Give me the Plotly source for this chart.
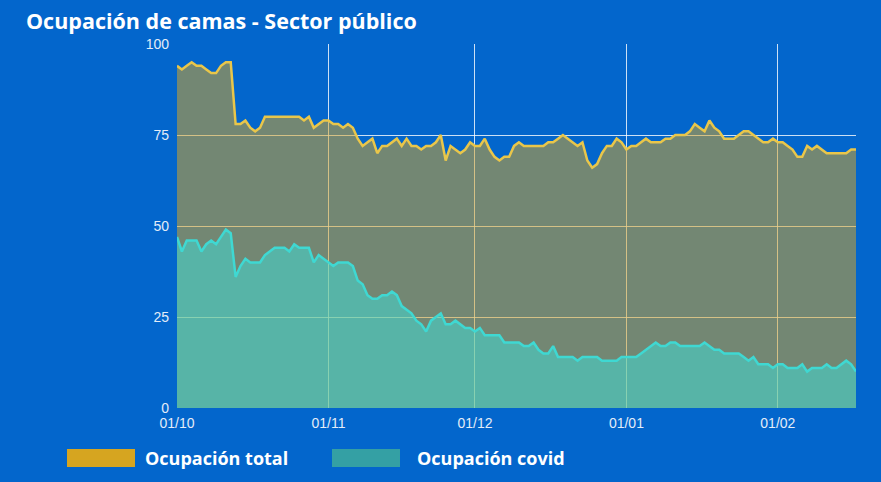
import plotly.graph_objects as go
import pandas as pd

dates = pd.date_range("2020-10-01", "2021-02-17", freq="D")

ocupacion_total = [
    94, 93, 94, 95, 94, 94, 93, 92, 92, 94, 95, 95, 78, 78, 79, 77, 76, 77, 80, 80,
    80, 80, 80, 80, 80, 80, 79, 80, 77, 78, 79, 79, 78, 78, 77, 78, 77, 74, 72, 73,
    74, 70, 72, 72, 73, 74, 72, 74, 72, 72, 71, 72, 72, 73, 75, 68, 72, 71, 70, 71,
    73, 72, 72, 74, 71, 69, 68, 69, 69, 72, 73, 72, 72, 72, 72, 72, 73, 73, 74, 75,
    74, 73, 72, 73, 68, 66, 67, 70, 72, 72, 74, 73, 71, 72, 72, 73, 74, 73, 73, 73,
    74, 74, 75, 75, 75, 76, 78, 77, 76, 79, 77, 76, 74, 74, 74, 75, 76, 76, 75, 74,
    73, 73, 74, 73, 73, 72, 71, 69, 69, 72, 71, 72, 71, 70, 70, 70, 70, 70, 71, 71,
]

ocupacion_covid = [
    47, 43, 46, 46, 46, 43, 45, 46, 45, 47, 49, 48, 36, 39, 41, 40, 40, 40, 42, 43,
    44, 44, 44, 43, 45, 44, 44, 44, 40, 42, 41, 40, 39, 40, 40, 40, 39, 35, 34, 31,
    30, 30, 31, 31, 32, 31, 28, 27, 26, 24, 23, 21, 24, 25, 26, 23, 23, 24, 23, 22,
    22, 21, 22, 20, 20, 20, 20, 18, 18, 18, 18, 17, 17, 18, 16, 15, 15, 17, 14, 14,
    14, 14, 13, 14, 14, 14, 14, 13, 13, 13, 13, 14, 14, 14, 14, 15, 16, 17, 18, 17,
    17, 18, 18, 17, 17, 17, 17, 17, 18, 17, 16, 16, 15, 15, 15, 15, 14, 13, 14, 12,
    12, 12, 11, 12, 12, 11, 11, 11, 12, 10, 11, 11, 11, 12, 11, 11, 12, 13, 12, 10,
]

tick_dates = ["2020-10-01", "2020-11-01", "2020-12-01", "2021-01-01", "2021-02-01"]
tick_labels = ["01/10", "01/11", "01/12", "01/01", "01/02"]
y_ticks = [0, 25, 50, 75, 100]

legend_names = ["Ocupación total", "Ocupación covid"]
legend_colors = ["#d6a520", "#34a0a4"]

BG = "#0366cc"
PW, PH = 679, 364  # plot area size in px

fig = go.Figure()
fig.add_trace(go.Scatter(
    x=dates, y=ocupacion_total, mode="lines", name=legend_names[0],
    line=dict(color="#e9c64a", width=2.5),
    fill="tozeroy", fillcolor="rgba(218,165,32,0.52)",
))
fig.add_trace(go.Scatter(
    x=dates, y=ocupacion_covid, mode="lines", name=legend_names[1],
    line=dict(color="#3fd8d2", width=2.5),
    fill="tozeroy", fillcolor="rgba(60,225,220,0.5)",
))

grid = "rgba(255,255,255,0.8)"
fig.update_layout(
    width=881, height=482,
    paper_bgcolor=BG, plot_bgcolor=BG,
    margin=dict(l=177, r=25, t=44, b=74),
    showlegend=False,
    font=dict(family="Liberation Sans, Arial", color="#e3ecf8", size=13),
    xaxis=dict(
        type="date",
        range=[dates[0], dates[-1]],
        tickvals=tick_dates, ticktext=tick_labels,
        showgrid=True, gridcolor=grid, gridwidth=1,
        zeroline=False, showline=False, ticks="",
        tickfont=dict(size=14, color="#e3ecf8"),
        ticklabelstandoff=5,
    ),
    yaxis=dict(
        range=[0, 100],
        tickvals=y_ticks,
        showgrid=True, gridcolor=grid, gridwidth=1,
        zeroline=False, showline=False, ticks="",
        tickfont=dict(size=14, color="#e3ecf8"),
        ticklabelstandoff=7,
    ),
)

# Title
fig.add_annotation(
    text="<b>Ocupación de camas - Sector público</b>",
    xref="paper", yref="paper", x=(24 - 177) / PW, y=1 + 24 / PH,
    xanchor="left", yanchor="middle", showarrow=False,
    font=dict(family="Open Sans", size=21.5, color="white"),
)

# Custom legend
swatch_x = [67, 332]
label_x = [143, 415]
for i, (name, col) in enumerate(zip(legend_names, legend_colors)):
    x0 = swatch_x[i]
    fig.add_shape(
        type="rect", xref="paper", yref="paper",
        x0=(x0 - 177) / PW, x1=(x0 + 68 - 177) / PW,
        y0=-(449 - 408) / PH, y1=-(467 - 408) / PH,
        fillcolor=col, line=dict(width=0),
    )
    fig.add_annotation(
        text="<b>" + name + "</b>",
        xref="paper", yref="paper",
        x=(label_x[i] - 177) / PW, y=-(458 - 408) / PH,
        xanchor="left", yanchor="middle", showarrow=False,
        font=dict(family="Open Sans", size=18, color="white"),
    )

fig.write_html(
    "out.html",
    config={"displayModeBar": False},
    post_script="document.body.style.margin='0';document.body.style.padding='0';",
)
